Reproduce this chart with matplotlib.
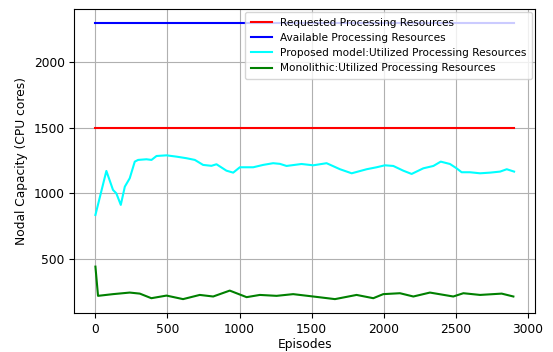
import matplotlib
matplotlib.use("Agg")
import matplotlib.pyplot as plt
import numpy as np

# Data
episodes_end = 2905
available_level = 2300
requested_level = 1500

proposed_x = [0, 76, 122, 145, 176, 204, 238, 273, 296, 354, 389, 424, 493, 563, 632,
              690, 747, 805, 840, 909, 956, 1002, 1095, 1164, 1233, 1280, 1326, 1430,
              1511, 1604, 1697, 1778, 1882, 1951, 2009, 2067, 2136, 2194, 2275, 2345,
              2396, 2460, 2506, 2541, 2599, 2669, 2738, 2808, 2854, 2905]
proposed_y = [835, 1171, 1026, 1000, 912, 1051, 1115, 1242, 1255, 1260, 1255, 1285, 1290,
              1280, 1268, 1255, 1217, 1210, 1222, 1173, 1158, 1199, 1199, 1217, 1230,
              1225, 1209, 1224, 1214, 1230, 1184, 1153, 1184, 1199, 1214, 1209, 1173,
              1148, 1191, 1209, 1242, 1224, 1191, 1161, 1161, 1153, 1158, 1166, 1184, 1166]

mono_x = [0, 18, 122, 238, 308, 388, 493, 608, 724, 817, 932, 1049, 1141, 1257, 1372,
          1511, 1662, 1812, 1928, 1997, 2113, 2206, 2321, 2483, 2553, 2669, 2819, 2900]
mono_y = [441, 218, 231, 243, 235, 200, 220, 193, 225, 213, 258, 208, 225, 218, 231,
          213, 193, 225, 200, 231, 238, 213, 243, 213, 238, 225, 235, 213]

labels = ["Requested Processing Resources",
          "Available Processing Resources",
          "Proposed model:Utilized Processing Resources",
          "Monolithic:Utilized Processing Resources"]

fig = plt.figure(figsize=(5.53, 3.52), dpi=100)
ax = fig.add_subplot(111)
fig.subplots_adjust(left=0.1347, right=0.9675, bottom=0.111, top=0.974)

ax.plot([0, episodes_end], [requested_level, requested_level], color="red", lw=1.5, label=labels[0])
ax.plot([0, episodes_end], [available_level, available_level], color="blue", lw=1.5, label=labels[1])
ax.plot(proposed_x, proposed_y, color="cyan", lw=1.5, label=labels[2])
ax.plot(mono_x, mono_y, color="green", lw=1.5, label=labels[3])

ax.grid(True)
ax.set_xticks([0, 500, 1000, 1500, 2000, 2500, 3000])
ax.set_yticks([500, 1000, 1500, 2000])
ax.tick_params(labelsize=8.8)
ax.set_xlabel("Episodes", fontsize=8.8, labelpad=2)
ax.set_ylabel("Nodal Capacity (CPU cores)", fontsize=8.8)
ax.legend(loc="upper right", fontsize=7.6, borderaxespad=0.25, handlelength=2,
          labelspacing=0.5, borderpad=0.55, handletextpad=0.8)

fig.savefig("out.png", dpi=100)
